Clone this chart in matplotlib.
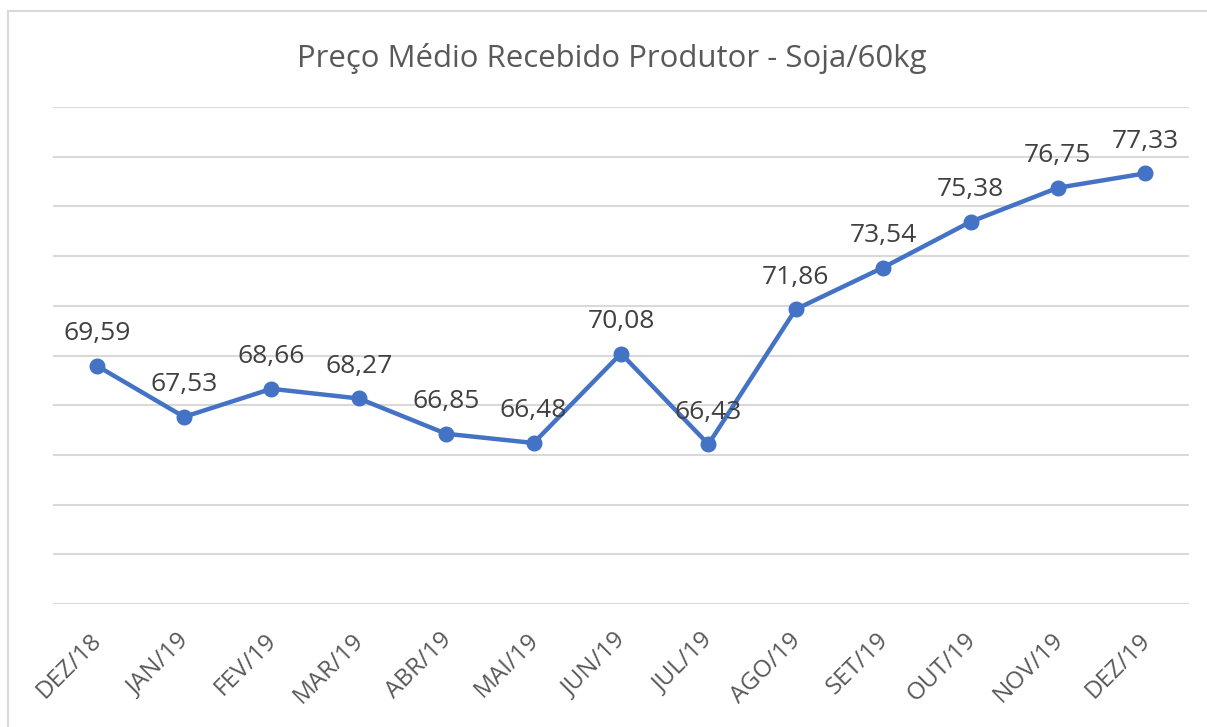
import matplotlib
matplotlib.use("Agg")
import matplotlib.pyplot as plt
from matplotlib.lines import Line2D

months = ["DEZ/18", "JAN/19", "FEV/19", "MAR/19", "ABR/19", "MAI/19", "JUN/19",
          "JUL/19", "AGO/19", "SET/19", "OUT/19", "NOV/19", "DEZ/19"]
prices = [69.59, 67.53, 68.66, 68.27, 66.85, 66.48, 70.08,
          66.43, 71.86, 73.54, 75.38, 76.75, 77.33]
title = "Preço Médio Recebido Produtor - Soja/60kg"

W, H = 1207, 727
fig = plt.figure(figsize=(W / 100, H / 100), dpi=100)
fig.patch.set_facecolor("white")
FONT = "Open Sans"

# chart border (left and top visible)
fig.add_artist(Line2D([8 / W, 8 / W], [0, 1 - 11 / H], transform=fig.transFigure,
                      color="#d9d9d9", lw=1.5))
fig.add_artist(Line2D([8 / W, 1], [1 - 11 / H, 1 - 11 / H], transform=fig.transFigure,
                      color="#d9d9d9", lw=1.5))

left, right = 53 / W, 1189 / W
bottom, top = 1 - 604 / H, 1 - 107 / H
ax = fig.add_axes([left, bottom, right - left, top - bottom])
x = list(range(len(months)))
ax.plot(x, prices, color="#4472C4", lw=3.2, marker="o", markersize=10.5,
        solid_joinstyle="round", zorder=3, clip_on=False)
ax.set_xlim(-0.5, len(months) - 0.5)
ax.set_ylim(60, 80)
ax.set_yticks(range(60, 81, 2))
ax.yaxis.grid(True, color="#d9d9d9", lw=1.5)
ax.set_axisbelow(True)
for s in ax.spines.values():
    s.set_visible(False)
ax.tick_params(axis="y", left=False, labelleft=False)
ax.tick_params(axis="x", bottom=False, pad=14)
ax.set_xticks(x)
ax.set_xticklabels(months, rotation=45, ha="right", va="top", rotation_mode="anchor",
                   fontsize=17.5, color="#595959", family=FONT)
offset = matplotlib.transforms.ScaledTranslation(-7 / 100, 0, fig.dpi_scale_trans)
for lbl in ax.get_xticklabels():
    lbl.set_transform(lbl.get_transform() + offset)

for xi, v in zip(x, prices):
    ax.annotate(f"{v:.2f}".replace(".", ","), (xi, v), xytext=(0, 32),
                textcoords="offset pixels", ha="center", va="center",
                fontsize=19, color="#404040", family=FONT, zorder=4)

fig.text(0.507, 1 - 59 / H, title, ha="center", va="center", fontsize=22.4,
         color="#595959", family=FONT)

fig.savefig("out.png", dpi=100)
